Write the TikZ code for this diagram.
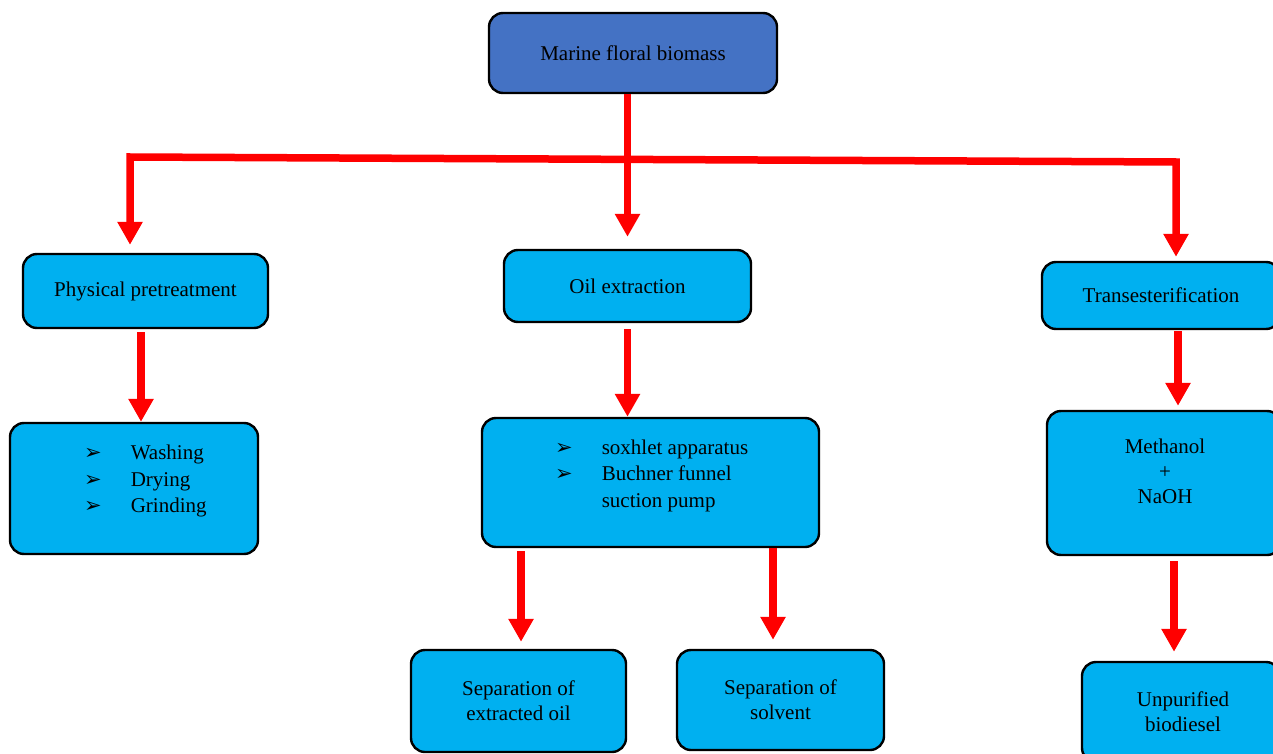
\documentclass[tikz,border=0pt]{standalone}
\usepackage{fontspec}
\setmainfont{Liberation Serif}
\newfontfamily\bulletfont{DejaVu Sans}
\usepackage{tikz}
\usetikzlibrary{arrows.meta, calc, positioning}

\definecolor{topblue}{HTML}{4472C4}
\definecolor{boxcyan}{HTML}{00B0F0}
\definecolor{flowred}{HTML}{FF0000}

\newcommand{\arrowbullet}{{\bulletfont\fontsize{21}{21}\selectfont ➢}}

\begin{document}
\begin{tikzpicture}[x=1pt, y=-1pt,
    font=\fontsize{21}{25}\selectfont,
    >={Triangle[width=24pt, length=23pt]},
    stagebox/.style={draw=black, line width=2.4pt, rounded corners=14pt, fill=boxcyan, align=center, inner sep=0pt},
    flow/.style={->, draw=flowred, line width=7.5pt}]
    \useasboundingbox (0,0) rectangle (1273,754);

    \node[stagebox, fill=topblue, minimum width=288, minimum height=80] (biomass) at (633,53) {Marine floral biomass};

    \node[stagebox, minimum width=245, minimum height=74] (phys) at (145.5,291) {Physical pretreatment};
    \node[stagebox, minimum width=247, minimum height=72] (oil) at (627.5,286) {Oil extraction};
    \node[stagebox, minimum width=238, minimum height=67] (trans) at (1161,295.5) {Transesterification};

    \node[stagebox, minimum width=248, minimum height=131] (wash) at (134,488.5) {};
    \node[anchor=west, inner sep=0pt] (washtxt) at (84,481) {\renewcommand{\arraystretch}{1.06}%
      \begin{tabular}{@{}l@{\hspace{29pt}}l@{}}
        \arrowbullet & Washing \\
        \arrowbullet & Drying \\
        \arrowbullet & Grinding
      \end{tabular}};

    \node[stagebox, minimum width=337, minimum height=129] (sox) at (650.5,482.5) {};
    \node[anchor=west, inner sep=0pt] (soxtxt) at (555,475.5) {\renewcommand{\arraystretch}{1.06}%
      \begin{tabular}{@{}l@{\hspace{29pt}}l@{}}
        \arrowbullet & soxhlet apparatus \\
        \arrowbullet & Buchner funnel \\
         & suction pump
      \end{tabular}};

    \node[stagebox, minimum width=234, minimum height=144] (meth) at (1164,483) {};
    \node[align=center, inner sep=0pt] (methtxt) at (1165,471.5) {Methanol\\+\\NaOH};

    \node[stagebox, minimum width=215, minimum height=102] (sepoil) at (518.5,701) {Separation of\\extracted oil};
    \node[stagebox, minimum width=207, minimum height=100] (sepsol) at (780.5,700) {Separation of\\solvent};
    \node[stagebox, minimum width=198, minimum height=100] (biodiesel) at (1181,712) {};
    \node[align=center, inner sep=0pt] (biodieseltxt) at (1183,712) {Unpurified\\biodiesel};

    % split below the biomass
    \coordinate (jl) at (130,157);
    \coordinate (jr) at (1176,162);
    \draw[flow, <->, shorten <=8pt, shorten >=4pt] (jl |- phys.north) -- (jl) -- (jr) -- (jr |- trans.north);
    \draw[flow, shorten >=12pt] (biomass.south -| oil.north) -- (oil.north);

    % first column
    \draw[flow, shorten <=3pt] ([xshift=-4.5pt]phys.south) -- ([xshift=-4.5pt]phys.south |- wash.north);

    % second column
    \draw[flow, shorten <=6pt] (oil.south) -- (oil.south |- sox.north);
    \draw[flow, shorten <=3pt, shorten >=7pt] ([xshift=2.5pt]sepoil.north |- sox.south) -- ([xshift=2.5pt]sepoil.north);
    \draw[flow, shorten >=9pt] ([xshift=-7.5pt]sepsol.north |- sox.south) -- ([xshift=-7.5pt]sepsol.north);

    % third column
    \draw[flow, shorten <=1pt, shorten >=4pt] ([xshift=17pt]trans.south) -- ([xshift=17pt]trans.south |- meth.north);
    \draw[flow, shorten <=5pt, shorten >=9pt] ([xshift=10pt]meth.south) -- ([xshift=10pt]meth.south |- biodiesel.north);
\end{tikzpicture}
\end{document}
